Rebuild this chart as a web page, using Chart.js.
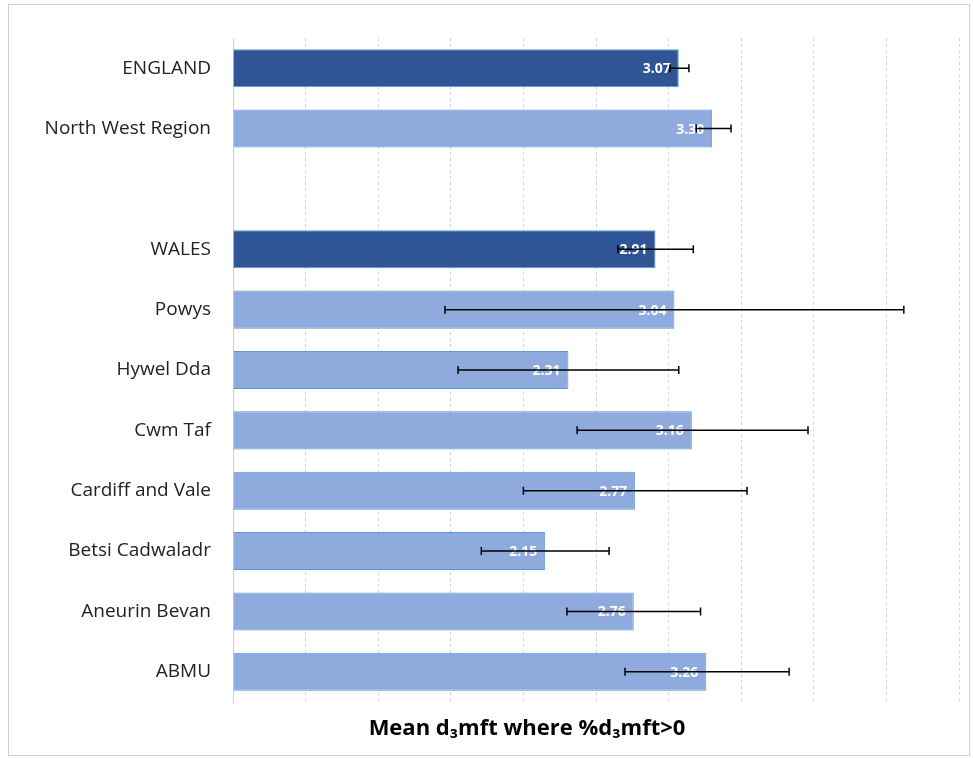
<!DOCTYPE html>
<html><head><meta charset="utf-8">
<script src="https://cdn.jsdelivr.net/npm/chart.js@4"></script>
<style>body{margin:0;background:#fff}#w{position:absolute;left:8px;top:4px;width:962px;height:752px;border:1px solid #d0d0d0;box-sizing:border-box}</style>
</head><body><div id="w"><canvas id="c"></canvas></div>
<script>
const categories=["ENGLAND","North West Region","","WALES","Powys","Hywel Dda","Cwm Taf","Cardiff and Vale","Betsi Cadwaladr","Aneurin Bevan","ABMU"];
const values=[3.07,3.30,null,2.91,3.04,2.31,3.16,2.77,2.15,2.76,3.26];
const lowCI=[3.01,3.19,null,2.65,1.46,1.55,2.37,2.00,1.71,2.30,2.70];
const highCI=[3.14,3.43,null,3.17,4.62,3.07,3.96,3.54,2.59,3.22,3.83];
const dark=[true,false,false,true,false,false,false,false,false,false,false];
const axisTitle='Mean d₃mft where %d₃mft>0';
const extras={id:'extras',afterDatasetsDraw(ch){
 const ctx=ch.ctx,x=ch.scales.x,y=ch.scales.y,meta=ch.getDatasetMeta(0);
 ctx.save();
 values.forEach((v,i)=>{ if(v==null)return; const b=meta.data[i];
  ctx.fillStyle='#fff';ctx.font='bold 14px "Open Sans", sans-serif';ctx.textAlign='right';ctx.textBaseline='middle';
  ctx.fillText(v.toFixed(2),b.x-8,b.y+1);
  const l=x.getPixelForValue(lowCI[i]),h=x.getPixelForValue(highCI[i]),yy=b.y;
  ctx.strokeStyle='#000';ctx.lineWidth=1.5;ctx.beginPath();
  ctx.moveTo(l,yy);ctx.lineTo(h,yy);ctx.moveTo(l,yy-4);ctx.lineTo(l,yy+4);ctx.moveTo(h,yy-4);ctx.lineTo(h,yy+4);ctx.stroke();
 });
 ctx.fillStyle='#000';ctx.font='bold 22px "Open Sans", sans-serif';ctx.textAlign='center';ctx.textBaseline='middle';
 ctx.fillText(axisTitle,518,724);
 ctx.restore();}};
new Chart(document.getElementById('c'),{type:'bar',
 data:{labels:categories,datasets:[{data:values,backgroundColor:dark.map(d=>d?'#2F5597':'#8FAADC'),borderColor:'#5B9BD5',borderWidth:1,barPercentage:0.63,categoryPercentage:1}]},
 options:{indexAxis:'y',responsive:true,maintainAspectRatio:false,animation:false,
  layout:{padding:{top:33,right:10,left:10,bottom:53}},
  plugins:{legend:{display:false},tooltip:{enabled:false}},
  scales:{x:{min:0,max:5,ticks:{display:false,stepSize:0.5},border:{display:false,dash:[3,3]},
    grid:{color:(c)=>c.index%2?'#c5d0e0':'#d9d9d9',drawTicks:false,lineWidth:1}},
   y:{grid:{display:false},border:{color:'#d0d0d0'},ticks:{color:'#222',font:{size:19,family:'"Open Sans", sans-serif'},padding:14},afterFit(s){s.width=214;}}}},
 plugins:[extras]});
</script></body></html>
